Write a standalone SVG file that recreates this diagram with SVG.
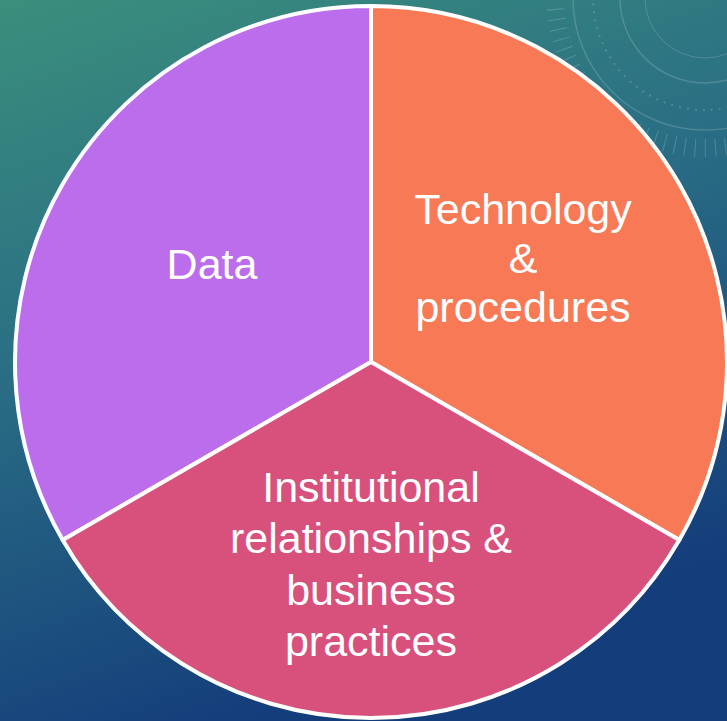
<svg xmlns="http://www.w3.org/2000/svg" width="727" height="721" viewBox="0 0 727 721">
  <defs>
    <linearGradient id="bg" x1="0" y1="0" x2="0.35" y2="1">
      <stop offset="0" stop-color="#3b8f7c"/>
      <stop offset="0.45" stop-color="#2a6f84"/>
      <stop offset="1" stop-color="#143d7b"/>
    </linearGradient>
  </defs>
  <style>
    .wedge { stroke: #ffffff; stroke-width: 4; stroke-linejoin: round; }
    .lbl { font-family: "Liberation Sans", Arial, sans-serif; font-size: 43px; fill: #ffffff; text-anchor: middle; }
    .deco { fill: none; stroke: #ffffff; stroke-opacity: 0.16; }
  </style>
  <rect x="0" y="0" width="727" height="721" fill="url(#bg)"/>
  <g id="decoration">
    <circle class="deco" cx="705" cy="-2" r="85" stroke-width="1.5"/>
    <circle class="deco" cx="705" cy="-2" r="132" stroke-width="1.5"/>
    <circle class="deco" cx="705" cy="-2" r="112" stroke-width="2" stroke-dasharray="2 6"/>
    <circle class="deco" cx="705" cy="-2" r="150" stroke-width="18" stroke-dasharray="1.2 9"/>
    <circle class="deco" cx="705" cy="-2" r="60" stroke-width="1"/>
  </g>
  <g id="data">
    <path class="wedge" fill="#bb6dec" d="M371,362 L371,6 A356,356 0 0 0 62.7,540 Z"/>
    <text class="lbl" x="212" y="279">Data</text>
  </g>
  <g id="technology">
    <path class="wedge" fill="#f87955" d="M371,362 L371,6 A356,356 0 0 1 679.3,540 Z"/>
    <text class="lbl" x="523" y="224">Technology</text>
    <text class="lbl" x="523" y="273">&amp;</text>
    <text class="lbl" x="523" y="322">procedures</text>
  </g>
  <g id="institutional">
    <path class="wedge" fill="#d8517d" d="M371,362 L679.3,540 A356,356 0 0 1 62.7,540 Z"/>
    <text class="lbl" x="371" y="502">Institutional</text>
    <text class="lbl" x="371" y="553">relationships &amp;</text>
    <text class="lbl" x="371" y="605">business</text>
    <text class="lbl" x="371" y="656">practices</text>
  </g>
  <g id="connectors"></g>
</svg>
